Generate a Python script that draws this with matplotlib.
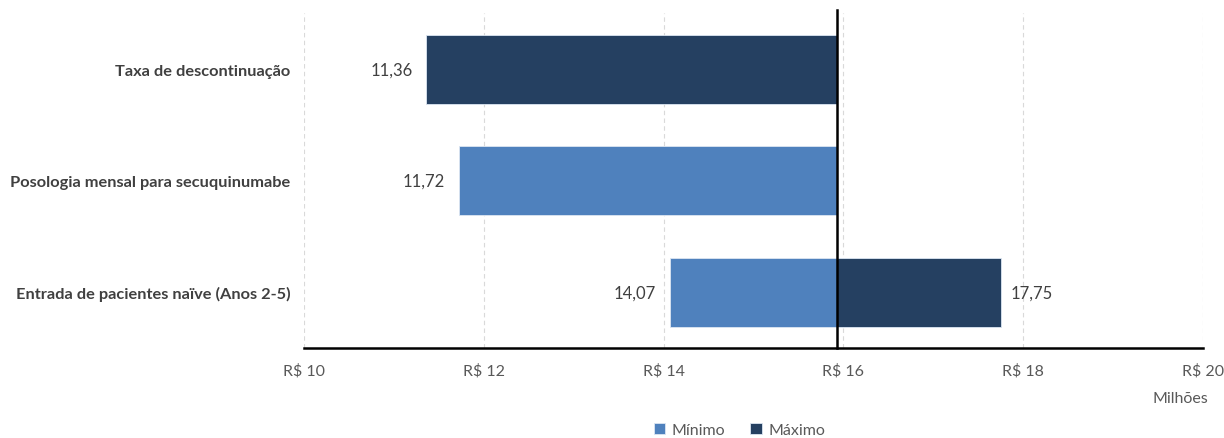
import matplotlib.pyplot as plt
import numpy as np

plt.rcParams['font.family'] = ['Lato', 'DejaVu Sans']

# parâmetros do tornado (valores em milhões de R$)
parametros = ['Taxa de descontinuação',
              'Posologia mensal para secuquinumabe',
              'Entrada de pacientes naïve (Anos 2-5)']
caso_base = 15.93
val_minimo = [15.93, 11.72, 14.07]
val_maximo = [11.36, 15.93, 17.75]
ticks_x = [10, 12, 14, 16, 18, 20]

cor_min = '#4F81BD'
cor_max = '#254061'
cinza = '#595959'

fig = plt.figure(figsize=(12.24, 4.39), dpi=100)
ax = fig.add_axes([0.2484, 0.205, 0.7344, 0.762])

y = np.arange(len(parametros))
for vals, cor, nome in [(val_minimo, cor_min, 'Mínimo'), (val_maximo, cor_max, 'Máximo')]:
    vals = np.array(vals)
    esq = np.minimum(vals, caso_base)
    larg = np.abs(vals - caso_base)
    ax.barh(y, larg, left=esq, height=0.62, color=cor, edgecolor='#dce6f2',
            linewidth=0.6, label=nome, zorder=3)
    for yi, v in zip(y, vals):
        if abs(v - caso_base) < 1e-9:
            continue
        txt = f'{v:.2f}'.replace('.', ',')
        if v < caso_base:
            ax.annotate(txt, (v, yi), xytext=(-10, 0), textcoords='offset points',
                        ha='right', va='center', fontsize=12, color='#404040')
        else:
            ax.annotate(txt, (v, yi), xytext=(7, 0), textcoords='offset points',
                        ha='left', va='center', fontsize=12, color='#404040')

ax.axvline(caso_base, color='black', lw=1.8, zorder=4, ymax=1.01, clip_on=False)

ax.set_xlim(10, 20)
ax.set_ylim(len(parametros) - 0.5, -0.5)
ax.set_xticks(ticks_x)
ax.set_xticklabels([f'R$ {t}' for t in ticks_x], fontsize=11.5, color=cinza)
ax.set_yticks(y)
ax.set_yticklabels(parametros, fontsize=11.8, fontweight='bold', color='#404040')
ax.tick_params(axis='x', length=0, pad=11)
ax.tick_params(axis='y', length=0, pad=10)
ax.grid(axis='x', color='#d9d9d9', ls=(0, (4, 3)), lw=0.8, zorder=0)
for s in ['top', 'right', 'left']:
    ax.spines[s].set_visible(False)
ax.spines['bottom'].set_linewidth(1.8)
ax.spines['bottom'].set_zorder(5)

fig.text(0.987, 0.091, 'Milhões', ha='right', va='center', fontsize=11.5, color=cinza)

fig.legend(loc='center', bbox_to_anchor=(0.604, 0.018), ncol=2, frameon=False,
           fontsize=11.5, handlelength=0.7, handleheight=0.7, handletextpad=0.4,
           columnspacing=1.6, labelcolor=cinza)

fig.savefig('out.png', dpi=100)
